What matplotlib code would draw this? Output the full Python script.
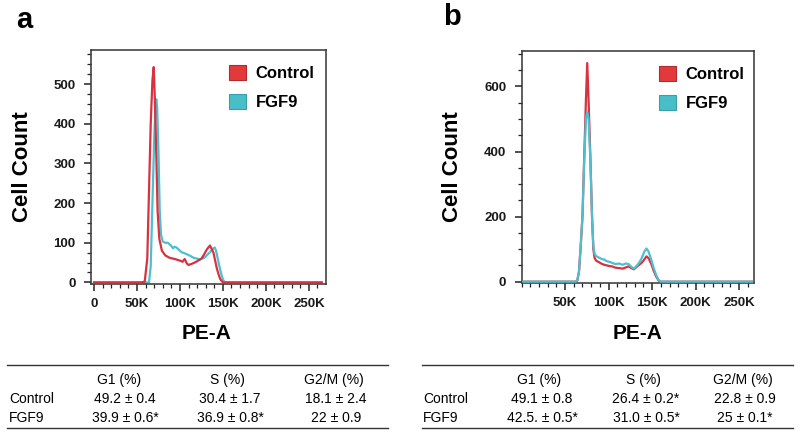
import matplotlib.pyplot as plt
from matplotlib.patches import Patch
from matplotlib.lines import Line2D
import numpy as np

plt.rcParams['font.family'] = ['Liberation Sans', 'DejaVu Sans']

# ---- Data ----
# panel a: PE-A (thousands) vs cell count
a_ctrl_x = [0, 55, 59, 62, 64, 66, 68, 69.5, 71, 72.5, 74, 76, 79, 83, 88, 94, 100, 103,
            105.5, 108, 110, 114, 118, 122, 125, 128, 131, 133, 135, 137, 139, 141, 143,
            145, 147, 150, 265]
a_ctrl_y = [0, 0, 2, 60, 230, 400, 510, 543, 450, 320, 180, 110, 80, 68, 62, 59, 55, 52,
            59, 48, 44, 47, 51, 56, 60, 70, 82, 88, 93, 84, 75, 55, 35,
            20, 8, 0, 0]
a_fgf9_x = [0, 64, 66, 68, 70, 71.5, 72.5, 73.5, 75, 76.5, 78, 80, 83, 86, 88, 90, 92, 94,
            96, 99, 102, 105, 108, 112, 116, 120, 123, 126, 129, 132, 135, 138, 140.5,
            142, 144, 146, 148, 150, 152, 265]
a_fgf9_y = [0, 0, 40, 200, 360, 445, 462, 440, 330, 180, 120, 103, 100, 100, 96, 92, 86, 90,
            88, 82, 76, 74, 71, 67, 62, 60, 58, 60, 63, 70, 76, 84, 88,
            80, 60, 40, 22, 8, 0, 0]

# panel b
b_ctrl_x = [0, 62, 64, 66, 68, 70, 72, 74, 75.5, 77, 79, 81, 82.5, 84, 86, 89, 92, 95, 98,
            101, 104, 108, 112, 116, 120, 123, 126, 129, 132, 135, 138, 141, 143.5, 146,
            149, 152, 155, 158, 160, 265]
b_ctrl_y = [0, 0, 3, 30, 110, 200, 380, 560, 672, 560, 390, 200, 100, 72, 64, 60, 55, 52, 50,
            48, 47, 43, 42, 40, 44, 47, 42, 38, 45, 52, 58, 68, 78, 72,
            55, 32, 14, 2, 0, 0]
b_fgf9_x = b_ctrl_x
b_fgf9_y = [0, 0, 3, 30, 110, 200, 370, 500, 522, 500, 380, 200, 110, 85, 78, 74, 70, 68, 63,
            61, 58, 54, 56, 52, 56, 54, 46, 40, 48, 58, 72, 92, 102, 92,
            68, 40, 18, 3, 0, 0]

groups = ['Control', 'FGF9']
phases = ['G1 (%)', 'S (%)', 'G2/M (%)']
a_table = [['49.2 ± 0.4', '30.4 ± 1.7', '18.1 ± 2.4'],
           ['39.9 ± 0.6*', '36.9 ± 0.8*', '22 ± 0.9']]
b_table = [['49.1 ± 0.8', '26.4 ± 0.2*', '22.8 ± 0.9'],
           ['42.5. ± 0.5*', '31.0 ± 0.5*', '25 ± 0.1*']]

red = '#D8313F'
cyan = '#4DBFCF'

W, H = 800, 436
fig = plt.figure(figsize=(8, 4.36), dpi=100)
fig.patch.set_facecolor('white')


def fx(px):
    return px / W


def fy(py):
    return 1 - py / H


def style_axis(ax, xmin, xmax, ymin, ymax, yticks, ymin_step, xticks, xlabels):
    ax.set_xlim(xmin, xmax)
    ax.set_ylim(ymin, ymax)
    ax.set_yticks(yticks)
    ax.set_yticks(np.arange(0, ymax, ymin_step), minor=True)
    ax.set_xticks(xticks)
    ax.set_xticklabels(xlabels)
    ax.set_xticks(np.arange(0, xmax, 10000), minor=True)
    ax.tick_params(which='major', direction='out', length=5, width=1.1, color='#222222',
                   labelsize=9.5, labelcolor='#1a1a1a')
    ax.tick_params(which='minor', direction='out', length=3, width=0.9, color='#222222')
    ax.tick_params(axis='y', pad=6)
    ax.tick_params(axis='x', pad=5)
    for lab in ax.get_xticklabels() + ax.get_yticklabels():
        lab.set_fontweight('bold')
    for s in ax.spines.values():
        s.set_linewidth(1.1)
        s.set_color('#333333')


def legend(ax, fx0, fy0):
    handles = [Patch(facecolor='#E23A3A', edgecolor='#B02A30', linewidth=0.8),
               Patch(facecolor='#47BEC8', edgecolor='#3A9EA8', linewidth=0.8)]
    ax.legend(handles, groups, loc='upper left', bbox_to_anchor=(fx0, fy0), frameon=False,
              borderpad=0, borderaxespad=0, handlelength=1.0, handleheight=1.0,
              handletextpad=0.6, labelspacing=0.75,
              prop={'weight': 'bold', 'size': 12})


# ---- panel a ----
axa = fig.add_axes([fx(91), fy(284), (326 - 91) / W, (284 - 50) / H])
axa.plot(np.array(a_ctrl_x) * 1000, a_ctrl_y, color=red, lw=1.6, zorder=3)
axa.plot(np.array(a_fgf9_x) * 1000, a_fgf9_y, color=cyan, lw=1.6, zorder=2)
style_axis(axa, -3500, 270000, -4, 586, [0, 100, 200, 300, 400, 500], 25,
           [0, 50000, 100000, 150000, 200000, 250000], ['0', '50K', '100K', '150K', '200K', '250K'])
legend(axa, (229 - 91) / 235, 1 - (65 - 50) / 234)

# ---- panel b ----
axb = fig.add_axes([fx(521.5), fy(283), (754 - 521.5) / W, (283 - 50.7) / H])
axb.plot(np.array(b_ctrl_x) * 1000, b_ctrl_y, color=red, lw=1.6, zorder=2)
axb.plot(np.array(b_fgf9_x) * 1000, b_fgf9_y, color=cyan, lw=1.6, zorder=3)
style_axis(axb, 0, 267000, -4, 710, [0, 200, 400, 600], 50,
           [50000, 100000, 150000, 200000, 250000], ['50K', '100K', '150K', '200K', '250K'])
legend(axb, (659 - 521.5) / 232.5, 1 - (66 - 50.7) / 232.3)

# ---- labels ----
fig.text(fx(24), fy(20), 'a', fontsize=21, fontweight='bold', ha='center', va='center')
fig.text(fx(452), fy(17), 'b', fontsize=21, fontweight='bold', ha='center', va='center')
for x in (23, 453):
    fig.text(fx(x), fy(167), 'Cell Count', fontsize=16, fontweight='bold', rotation=90,
             ha='center', va='center')
for x in (207, 638):
    fig.text(fx(x), fy(333), 'PE-A', fontsize=15, fontweight='bold', ha='center', va='center')

# ---- tables ----
def table(x0, x1, label_x, head_x, val_x, rows):
    for y in (365, 427.5):
        fig.add_artist(Line2D([fx(x0), fx(x1)], [fy(y), fy(y)], color='#333333', lw=1.0))
    for hx, h in zip(head_x, phases):
        fig.text(fx(hx), fy(380), h, fontsize=10, ha='center', va='center')
    for ry, g, vals in zip((399, 418), groups, rows):
        fig.text(fx(label_x), fy(ry), g, fontsize=10, ha='left', va='center')
        for vx, v in zip(val_x, vals):
            fig.text(fx(vx), fy(ry), v, fontsize=10, ha='center', va='center')


table(7, 388, 9, [119, 227, 334], [125, 230, 336], a_table)
table(422, 793, 423, [539, 643, 743], [542, 646, 745], b_table)

fig.savefig('out.png', dpi=100)
